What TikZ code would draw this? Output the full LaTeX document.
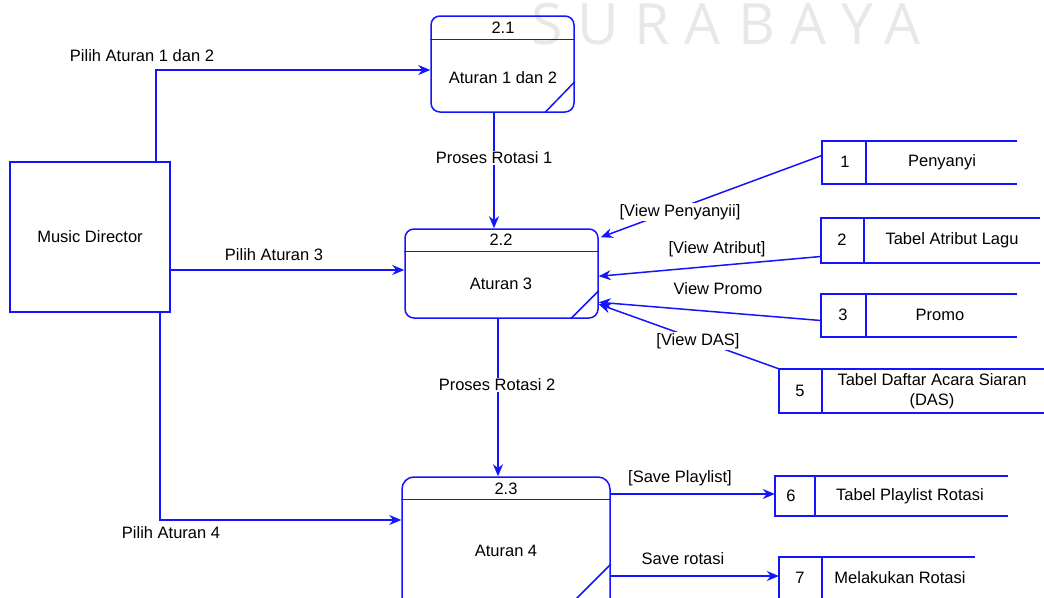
\documentclass[tikz,border=0pt]{standalone}
\usepackage{fontspec}
\setmainfont{Liberation Sans}
\newfontfamily\wmfont{Open Sans}
\usetikzlibrary{arrows.meta}
\definecolor{dfdblue}{RGB}{20,20,255}
\definecolor{wmgray}{RGB}{232,232,232}
% open-ended data store: top, left and bottom sides plus the id divider
\newcommand\drawstore[2]{%
  \draw[edge] (#1.north east) -- (#1.north west) -- (#1.south west) -- (#1.south east);
  \draw[edge] ([xshift=#2]#1.north west) -- ([xshift=#2]#1.south west);}
\begin{document}
\begin{tikzpicture}[x=1pt,y=-1pt,
  edge/.style={draw=dfdblue, line width=1.5pt},
  flow/.style={edge, -{Stealth[length=12pt,width=10pt]}},
  lbl/.style={font=\fontsize{16.5}{19.5}\selectfont, text=black, inner sep=1pt},
  lblw/.style={lbl, fill=white},
  proc/.style={edge, rounded corners=9pt, inner sep=0pt},
  ent/.style={edge, inner sep=0pt, font=\fontsize{16.5}{19.5}\selectfont},
  store/.style={draw=none, inner sep=0pt},
  wm/.style={font=\wmfont\fontsize{57}{58}\selectfont, text=wmgray, anchor=base, inner sep=0pt}
]
\useasboundingbox (0,0) rectangle (1044,597);

% watermark
\foreach \ch/\xx in {S/547,U/598,R/652,A/703,B/757,A/809,Y/857,A/903}
  \node[wm] at (\xx,44) {\ch};

% external entity
\node[ent, minimum width=160pt, minimum height=150pt] (md) at (90,237) {Music Director};

% processes
\node[proc, minimum width=143pt, minimum height=96pt] (p21) at (502.5,64) {};
\draw[edge] ([yshift=-24pt]p21.north west) -- ([yshift=-24pt]p21.north east);
\draw[edge] ([yshift=31pt]p21.south east) -- ++(-30,31);
\node[lbl] (p21n) at (503,28) {2.1};
\node[lbl] (p21t) at (503,78) {Aturan 1 dan 2};

\node[proc, minimum width=193pt, minimum height=89pt] (p22) at (501.5,273.5) {};
\draw[edge] ([yshift=-23pt]p22.north west) -- ([yshift=-23pt]p22.north east);
\draw[edge] ([yshift=28pt]p22.south east) -- ++(-28,28);
\node[lbl] (p22n) at (501,240) {2.2};
\node[lbl] (p22t) at (501,284) {Aturan 3};

\node[proc, rounded corners=12pt, minimum width=208pt, minimum height=163pt] (p23) at (506,558.5) {};
\draw[edge] ([yshift=-23pt]p23.north west) -- ([yshift=-23pt]p23.north east);
\draw[edge] ([yshift=-88pt]p23.north east) -- ++(-40,40);
\node[lbl] (p23n) at (506,489) {2.3};
\node[lbl] (p23t) at (506,551) {Aturan 4};

% data stores
\node[store, minimum width=195pt, minimum height=43pt] (s1) at (919.5,162.5) {};
\drawstore{s1}{44pt}
\node[lbl] (s1n) at (845,162) {1};
\node[lbl] (s1t) at (942,162) {Penyanyi};

\node[store, minimum width=219pt, minimum height=45pt] (s2) at (930.5,240.5) {};
\drawstore{s2}{43pt}
\node[lbl] (s2n) at (842,240) {2};
\node[lbl] (s2t) at (952,240) {Tabel Atribut Lagu};

\node[store, minimum width=196pt, minimum height=43pt] (s3) at (919,315.5) {};
\drawstore{s3}{45pt}
\node[lbl] (s3n) at (843,315) {3};
\node[lbl] (s3t) at (940,315) {Promo};

\node[store, minimum width=265pt, minimum height=44pt] (s5) at (911.5,391) {};
\drawstore{s5}{43pt}
\node[lbl] (s5n) at (800,391) {5};
\node[lbl, align=center] (s5t) at (932,391) {Tabel Daftar Acara Siaran\\(DAS)};

\node[store, minimum width=233pt, minimum height=40pt] (s6) at (891.5,496) {};
\drawstore{s6}{40pt}
\node[lbl] (s6n) at (791,496) {6};
\node[lbl] (s6t) at (910,496) {Tabel Playlist Rotasi};

\node[store, minimum width=196pt, minimum height=43pt] (s7) at (877,578.5) {};
\drawstore{s7}{43pt}
\node[lbl] (s7n) at (800,578) {7};
\node[lbl] (s7t) at (900,578) {Melakukan Rotasi};

% flows from the music director
\draw[flow] ([xshift=66pt]md.north) |- ([yshift=-6pt]p21.west);
\node[lbl] (l1) at (142,56) {Pilih Aturan 1 dan 2};
\draw[flow] (md.east |- 0,270) -- (p22.west |- 0,270);
\node[lbl] (l3) at (274,255) {Pilih Aturan 3};
\draw[flow] ([xshift=70pt]md.south) |- (p23.west |- 0,520);
\node[lbl] (l4) at (171,533) {Pilih Aturan 4};

% flows between processes
\draw[flow] (p21.south -| 494,0) -- (p22.north -| 494,0);
\node[lblw] (r1) at (494,158) {Proses Rotasi 1};
\draw[flow] (p22.south -| 498,0) -- (p23.north -| 498,0);
\node[lblw] (r2) at (497,385) {Proses Rotasi 2};

% reads from data stores
\draw[flow] ([yshift=7pt]s1.west) -- ([xshift=2pt,yshift=-9pt]p22.north east);
\node[lblw] (v1) at (680,212) {[View Penyanyii]};
\draw[flow] ([yshift=-16pt]s2.west) -- ([yshift=-48pt]p22.north east);
\node[lbl] (v2) at (717,249) {[View Atribut]};
\draw[flow] ([yshift=-5pt]s3.west) -- ([yshift=-74pt]p22.north east);
\node[lbl] (v3) at (718,289) {View Promo};
\draw[flow] (s5.north west) -- ([yshift=-76pt]p22.north east);
\node[lblw] (v5) at (698,341) {[View DAS]};

% writes to data stores
\draw[flow] (p23.east |- 0,494) -- (s6.west |- 0,494);
\node[lbl] (w6) at (680,478) {[Save Playlist]};
\draw[flow] (p23.east |- 0,576) -- (s7.west |- 0,576);
\node[lbl] (w7) at (683,559) {Save rotasi};
\end{tikzpicture}
\end{document}
